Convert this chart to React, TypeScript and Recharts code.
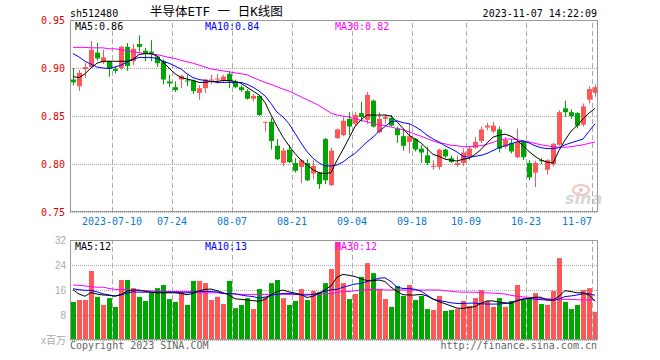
import React from 'react';
import { ComposedChart, Bar, Line, XAxis, YAxis, CartesianGrid, ReferenceLine } from 'recharts';

// trading days shown, 2023-06-29 .. 2023-11-07
const dates = [
  '06-29', '06-30',
  '07-03', '07-04', '07-05', '07-06', '07-07',
  '07-10', '07-11', '07-12', '07-13', '07-14',
  '07-17', '07-18', '07-19', '07-20', '07-21',
  '07-24', '07-25', '07-26', '07-27', '07-28',
  '07-31', '08-01', '08-02', '08-03', '08-04',
  '08-07', '08-08', '08-09', '08-10', '08-11',
  '08-14', '08-15', '08-16', '08-17', '08-18',
  '08-21', '08-22', '08-23', '08-24', '08-25',
  '08-28', '08-29', '08-30', '08-31', '09-01',
  '09-04', '09-05', '09-06', '09-07', '09-08',
  '09-11', '09-12', '09-13', '09-14', '09-15',
  '09-18', '09-19', '09-20', '09-21', '09-22',
  '09-25', '09-26', '09-27', '09-28',
  '10-09', '10-10', '10-11', '10-12', '10-13',
  '10-16', '10-17', '10-18', '10-19', '10-20',
  '10-23', '10-24', '10-25', '10-26', '10-27',
  '10-30', '10-31', '11-01', '11-02', '11-03',
  '11-06', '11-07',
];

const opens = [
  0.888, 0.881, 0.899, 0.901, 0.916, 0.906, 0.907, 0.899, 0.900, 0.922,
  0.907, 0.925, 0.918, 0.917, 0.912, 0.907, 0.886, 0.880, 0.888, 0.887,
  0.887, 0.874, 0.879, 0.887, 0.888, 0.887, 0.894, 0.886, 0.880, 0.876,
  0.868, 0.871, 0.843, 0.844, 0.819, 0.801, 0.815, 0.801, 0.797, 0.801,
  0.790, 0.791, 0.826, 0.778, 0.827, 0.830, 0.847, 0.842, 0.853, 0.846,
  0.866, 0.833, 0.847, 0.848, 0.837, 0.829, 0.823, 0.826, 0.816, 0.809,
  0.797, 0.797, 0.815, 0.806, 0.799, 0.801, 0.808, 0.817, 0.824, 0.838,
  0.834, 0.836, 0.818, 0.822, 0.807, 0.824, 0.801, 0.791, 0.804, 0.794,
  0.800, 0.820, 0.858, 0.854, 0.853, 0.841, 0.867, 0.874,
];
const highs = [
  0.900, 0.898, 0.905, 0.928, 0.926, 0.919, 0.907, 0.902, 0.923, 0.926,
  0.925, 0.934, 0.921, 0.929, 0.913, 0.909, 0.893, 0.886, 0.893, 0.893,
  0.888, 0.882, 0.889, 0.893, 0.894, 0.893, 0.897, 0.888, 0.882, 0.878,
  0.873, 0.872, 0.844, 0.848, 0.826, 0.817, 0.820, 0.806, 0.805, 0.805,
  0.804, 0.792, 0.827, 0.817, 0.837, 0.849, 0.854, 0.854, 0.865, 0.875,
  0.867, 0.854, 0.852, 0.851, 0.839, 0.837, 0.842, 0.827, 0.820, 0.818,
  0.804, 0.816, 0.816, 0.809, 0.809, 0.816, 0.819, 0.828, 0.839, 0.843,
  0.844, 0.839, 0.828, 0.826, 0.837, 0.825, 0.804, 0.803, 0.806, 0.805,
  0.822, 0.856, 0.866, 0.857, 0.854, 0.863, 0.881, 0.883,
];
const lows = [
  0.882, 0.876, 0.890, 0.900, 0.908, 0.904, 0.891, 0.894, 0.898, 0.897,
  0.903, 0.917, 0.907, 0.907, 0.901, 0.883, 0.880, 0.875, 0.879, 0.881,
  0.873, 0.867, 0.874, 0.883, 0.884, 0.885, 0.879, 0.879, 0.875, 0.867,
  0.865, 0.850, 0.834, 0.815, 0.804, 0.798, 0.801, 0.791, 0.780, 0.782,
  0.784, 0.774, 0.779, 0.777, 0.826, 0.829, 0.830, 0.839, 0.844, 0.842,
  0.838, 0.832, 0.842, 0.839, 0.822, 0.814, 0.811, 0.813, 0.801, 0.799,
  0.794, 0.794, 0.806, 0.801, 0.797, 0.798, 0.804, 0.816, 0.822, 0.835,
  0.832, 0.812, 0.816, 0.811, 0.806, 0.804, 0.783, 0.776, 0.800, 0.789,
  0.797, 0.819, 0.849, 0.847, 0.837, 0.839, 0.863, 0.870,
];
const closes = [
  0.885, 0.895, 0.901, 0.919, 0.910, 0.911, 0.899, 0.897, 0.922, 0.902,
  0.920, 0.922, 0.915, 0.915, 0.905, 0.888, 0.884, 0.877, 0.892, 0.886,
  0.876, 0.879, 0.888, 0.888, 0.889, 0.891, 0.886, 0.880, 0.877, 0.868,
  0.871, 0.851, 0.844, 0.824, 0.805, 0.814, 0.802, 0.793, 0.804, 0.783,
  0.798, 0.779, 0.783, 0.814, 0.836, 0.845, 0.839, 0.851, 0.849, 0.872,
  0.839, 0.847, 0.849, 0.840, 0.830, 0.819, 0.829, 0.815, 0.812, 0.801,
  0.798, 0.815, 0.808, 0.802, 0.801, 0.812, 0.816, 0.823, 0.836, 0.840,
  0.840, 0.816, 0.825, 0.813, 0.823, 0.807, 0.786, 0.801, 0.803, 0.804,
  0.821, 0.854, 0.854, 0.850, 0.840, 0.860, 0.878, 0.880,
];

// volume, millions of shares
const volumes = [
  12.2, 12.8, 12.8, 22.1, 13.8, 11.2, 13.4, 10.6, 19.2, 19.2,
  16.6, 13.8, 12.5, 15.2, 16.6, 17.6, 13.1, 12.2, 15.3, 11.2,
  18.9, 18.9, 18.2, 12.8, 13.8, 11.5, 18.9, 10.2, 11.2, 13.4,
  9.9, 16.3, 13.8, 18.2, 19.2, 13.4, 11.2, 12.5, 16.3, 12.8,
  15.7, 15.4, 18.2, 22.7, 31.4, 18.2, 13.1, 14.7, 20.2, 24.6,
  21.4, 16.3, 13.1, 10.6, 17.3, 14.1, 17.6, 12.8, 14.1, 9.9,
  9.6, 14.1, 9.3, 9.6, 9.9, 12.5, 10.9, 13.4, 16.0, 12.5,
  10.6, 13.4, 10.6, 12.5, 17.6, 12.8, 13.4, 15.0, 11.5, 11.2,
  15.7, 26.2, 12.2, 9.9, 11.2, 16.0, 16.6, 9.0,
];

const ma5 = [
  0.891, 0.890, 0.894, 0.900, 0.905, 0.907, 0.907, 0.907, 0.907, 0.907,
  0.909, 0.914, 0.915, 0.915, 0.9125, 0.906, 0.900, 0.894, 0.890, 0.8885,
  0.887, 0.885, 0.885, 0.886, 0.886, 0.887, 0.887, 0.886, 0.884, 0.880,
  0.876, 0.872, 0.864, 0.851, 0.839, 0.828, 0.819, 0.811, 0.804, 0.799,
  0.794, 0.791, 0.790, 0.791, 0.804, 0.815, 0.827, 0.839, 0.846, 0.851,
  0.851, 0.851, 0.851, 0.850, 0.844, 0.837, 0.830, 0.826, 0.822, 0.816,
  0.810, 0.808, 0.805, 0.804, 0.803, 0.805, 0.806, 0.810, 0.815, 0.822,
  0.828, 0.830, 0.831, 0.829, 0.825, 0.819, 0.813, 0.808, 0.804, 0.802,
  0.801, 0.814, 0.825, 0.834, 0.840, 0.847, 0.853, 0.858,
];
const ma10 = [
  0.915, 0.9115, 0.907, 0.904, 0.901, 0.900, 0.8995, 0.901, 0.903, 0.906,
  0.909, 0.911, 0.911, 0.911, 0.910, 0.907, 0.905, 0.902, 0.899, 0.894,
  0.890, 0.888, 0.887, 0.886, 0.885, 0.885, 0.885, 0.885, 0.885, 0.883,
  0.880, 0.876, 0.871, 0.863, 0.854, 0.849, 0.842, 0.832, 0.822, 0.813,
  0.806, 0.801, 0.798, 0.798, 0.799, 0.802, 0.807, 0.811, 0.817, 0.823,
  0.828, 0.834, 0.839, 0.844, 0.845, 0.843, 0.842, 0.839, 0.835, 0.830,
  0.826, 0.823, 0.819, 0.816, 0.8125, 0.808, 0.807, 0.808, 0.809, 0.811,
  0.814, 0.817, 0.819, 0.821, 0.823, 0.824, 0.822, 0.819, 0.817, 0.816,
  0.816, 0.817, 0.820, 0.822, 0.824, 0.826, 0.834, 0.842,
];
const ma30 = [
  0.9215, 0.9215, 0.9215, 0.921, 0.921, 0.921, 0.920, 0.920, 0.919, 0.918,
  0.917, 0.916, 0.915, 0.9145, 0.914, 0.9125, 0.911, 0.910, 0.908, 0.9065,
  0.905, 0.903, 0.901, 0.899, 0.898, 0.897, 0.896, 0.895, 0.894, 0.893,
  0.890, 0.8875, 0.885, 0.883, 0.8805, 0.878, 0.876, 0.873, 0.870, 0.867,
  0.864, 0.861, 0.857, 0.853, 0.851, 0.850, 0.849, 0.847, 0.8455, 0.844,
  0.842, 0.841, 0.840, 0.8385, 0.837, 0.8355, 0.8335, 0.831, 0.829, 0.8265,
  0.824, 0.822, 0.821, 0.8195, 0.819, 0.818, 0.818, 0.8185, 0.819, 0.8205,
  0.8225, 0.825, 0.826, 0.826, 0.8255, 0.824, 0.823, 0.8215, 0.820, 0.819,
  0.818, 0.8175, 0.8175, 0.818, 0.819, 0.820, 0.8215, 0.823,
];

const volMa5 = [
  16.1, 14.7, 14.0, 15.2, 14.7, 14.4, 14.3, 14.0, 14.6, 15.6,
  16.0, 16.0, 15.6, 15.3, 15.1, 15.1, 15.1, 15.1, 14.9, 14.5,
  14.9, 15.7, 16.2, 16.3, 15.8, 15.1, 14.4, 13.2, 13.0, 12.8,
  12.6, 12.4, 13.0, 14.5, 15.5, 16.0, 15.4, 15.0, 14.6, 13.6,
  14.0, 14.9, 16.1, 17.3, 20.1, 21.0, 20.7, 20.3, 19.6, 19.0,
  19.0, 19.2, 18.7, 16.9, 15.6, 14.5, 14.4, 14.4, 14.6, 14.1,
  13.1, 12.3, 11.6, 10.9, 10.2, 10.1, 10.4, 10.7, 11.7, 12.5,
  12.5, 12.1, 11.9, 11.7, 12.5, 13.0, 13.3, 13.7, 13.7, 12.8,
  12.8, 14.0, 15.8, 15.5, 15.1, 15.1, 14.4, 12.4,
];
const volMa10 = [
  16.4, 16.1, 15.9, 15.9, 15.4, 14.8, 14.4, 14.1, 14.4, 15.0,
  15.4, 15.3, 15.3, 15.3, 15.3, 15.3, 15.3, 15.3, 15.1, 15.1,
  15.4, 15.5, 15.5, 15.5, 15.4, 14.9, 14.9, 14.8, 14.4, 14.1,
  13.9, 13.4, 13.7, 14.3, 14.6, 14.9, 14.9, 14.7, 14.4, 14.4,
  14.6, 15.0, 15.6, 16.1, 16.2, 16.9, 17.4, 17.9, 18.1, 18.7,
  19.2, 19.8, 19.9, 18.7, 16.9, 16.5, 16.5, 16.2, 15.6, 14.4,
  13.1, 12.6, 12.3, 11.9, 11.7, 11.7, 11.8, 11.8, 11.6, 11.5,
  11.5, 11.5, 11.7, 11.9, 12.7, 13.2, 13.3, 13.1, 12.9, 12.8,
  12.7, 13.1, 13.9, 14.1, 14.4, 14.8, 14.8, 14.3,
];
const volMa30 = [
  17.6, 17.5, 17.3, 17.0, 16.9, 16.9, 16.5, 16.2, 16.2, 16.1,
  15.9, 15.8, 15.8, 15.7, 15.6, 15.5, 15.5, 15.5, 15.5, 15.5,
  15.4, 15.1, 15.1, 15.1, 15.1, 14.9, 14.8, 14.7, 14.6, 14.6,
  14.6, 14.6, 14.6, 14.6, 14.6, 14.6, 14.6, 14.6, 14.6, 14.6,
  14.6, 14.6, 14.7, 14.9, 15.2, 15.5, 15.5, 15.8, 15.9, 16.1,
  16.2, 16.2, 16.0, 16.0, 16.0, 16.0, 16.0, 16.0, 16.0, 16.0,
  16.0, 16.0, 15.8, 15.6, 15.4, 15.3, 15.3, 15.3, 15.1, 15.1,
  15.0, 14.9, 14.7, 14.3, 14.0, 13.8, 13.6, 13.5, 13.3, 13.2,
  13.1, 13.1, 13.0, 13.0, 12.9, 12.8, 12.8, 12.8,
];

const tickDates = ['07-10', '07-24', '08-07', '08-21', '09-04', '09-18', '10-09', '10-23', '11-07'];
const tickLabels = ['2023-07-10', '07-24', '08-07', '08-21', '09-04', '09-18', '10-09', '10-23', '11-07'];
const priceTicks = [0.75, 0.8, 0.85, 0.9, 0.95];
const volTicks = [0, 8, 16, 24, 32];

const RED = '#ff5656';
const GREEN = '#00a600';
const GRID = '#aaaaaa';
const MONO = '"DejaVu Sans Mono", monospace';

const rows = dates.map((date, i) => ({
  date,
  open: opens[i],
  high: highs[i],
  low: lows[i],
  close: closes[i],
  vol: volumes[i],
  ma5: ma5[i],
  ma10: ma10[i],
  ma30: ma30[i],
  vma5: volMa5[i],
  vma10: volMa10[i],
  vma30: volMa30[i],
}));

const Candle = (props: any) => {
  const { x, y, width, height, payload } = props;
  if (x == null || !payload) return null;
  const { open, close, high, low } = payload;
  const color = close >= open ? RED : GREEN;
  const span = high - low;
  const yOf = (v: number) => (span > 0 ? y + ((high - v) / span) * height : y);
  const top = yOf(Math.max(open, close));
  const bottom = yOf(Math.min(open, close));
  const cx = Math.floor(x + width / 2) + 0.5;
  return (
    <g>
      <line x1={cx} x2={cx} y1={y} y2={y + height} stroke={color} strokeWidth={1} />
      <rect x={x} y={top} width={width} height={Math.max(1, bottom - top)} fill={color} />
    </g>
  );
};

const VolBar = (props: any) => {
  const { x, y, width, height, payload } = props;
  if (x == null || !payload) return null;
  const color = payload.close >= payload.open ? RED : GREEN;
  return <rect x={x} y={y} width={width} height={height} fill={color} />;
};

// date label under a grid line; the last one is pulled in so it stays inside the frame
const dateLabel = (text: string, last: boolean) => (p: any) => {
  const vb = p.viewBox || {};
  return (
    <text
      x={vb.x + (last ? 0 : 0)}
      y={vb.y + vb.height + 12.5}
      textAnchor={last ? 'end' : 'middle'}
      fill="#0a78d8"
      fontSize={10}
      fontFamily={MONO}
    >
      {text}
    </text>
  );
};

const dateLines = (withLabels: boolean) =>
  tickDates.map((d, i) => (
    <ReferenceLine
      key={d}
      x={d}
      position="start"
      stroke={GRID}
      strokeDasharray="5 3"
      shapeRendering="crispEdges"
      label={withLabels ? dateLabel(tickLabels[i], i === tickDates.length - 1) : undefined}
    />
  ));

export default function App() {
  return (
    <div style={{ position: 'absolute', left: 0, top: 0, width: 660, height: 360, background: '#fff' }}>
      <div style={{ position: 'absolute', left: 0, top: 0 }}>
        <ComposedChart width={660} height={233} data={rows} margin={{ top: 20, right: 62, bottom: 21, left: 0 }}>
          <CartesianGrid vertical={false} stroke={GRID} strokeDasharray="1 1" shapeRendering="crispEdges" />
          <XAxis dataKey="date" hide />
          <YAxis
            domain={[0.75, 0.95]}
            ticks={priceTicks}
            width={70}
            tickSize={0}
            tickMargin={5}
            axisLine={false}
            tickFormatter={(v: number) => v.toFixed(2)}
            tick={{ fill: '#e60000', fontSize: 10, fontFamily: MONO }}
          />
          {dateLines(true)}
          <Bar dataKey={(d: any) => [d.low, d.high]} barSize={5} shape={Candle} isAnimationActive={false} />
          <Line dataKey="ma30" stroke="#ff00ff" strokeWidth={1} dot={false} activeDot={false} isAnimationActive={false} />
          <Line dataKey="ma10" stroke="#0000ff" strokeWidth={1} dot={false} activeDot={false} isAnimationActive={false} />
          <Line dataKey="ma5" stroke="#000000" strokeWidth={1} dot={false} activeDot={false} isAnimationActive={false} />
        </ComposedChart>
      </div>
      <div style={{ position: 'absolute', left: 0, top: 233 }}>
        <ComposedChart width={660} height={127} data={rows} margin={{ top: 7, right: 62, bottom: 20, left: 0 }}>
          <CartesianGrid vertical={false} stroke={GRID} strokeDasharray="1 1" shapeRendering="crispEdges" />
          <XAxis dataKey="date" hide />
          <YAxis
            domain={[0, 32]}
            ticks={volTicks}
            width={70}
            tickSize={0}
            tickMargin={4}
            axisLine={false}
            tickFormatter={(v: number) => (v === 0 ? 'x百万' : String(v))}
            tick={{ fill: '#aaaaaa', fontSize: 10, fontFamily: '"Liberation Sans", "Noto Sans CJK SC", sans-serif' }}
          />
          {dateLines(false)}
          <Bar dataKey="vol" barSize={5} shape={VolBar} isAnimationActive={false} />
          <Line dataKey="vma30" stroke="#ff00ff" strokeWidth={1} dot={false} activeDot={false} isAnimationActive={false} />
          <Line dataKey="vma10" stroke="#0000ff" strokeWidth={1} dot={false} activeDot={false} isAnimationActive={false} />
          <Line dataKey="vma5" stroke="#000000" strokeWidth={1} dot={false} activeDot={false} isAnimationActive={false} />
        </ComposedChart>
      </div>
      <svg width={660} height={360} style={{ position: 'absolute', left: 0, top: 0, pointerEvents: 'none' }}>
        <rect x={70.5} y={20.5} width={527} height={191} fill="none" stroke="#999" />
        <rect x={70.5} y={240.5} width={527} height={99} fill="none" stroke="#999" />
        <g fontFamily={MONO} fontSize={10}>
          <text x={70} y={16.5} fill="#000">sh512480</text>
          <text x={597} y={16.5} fill="#000" textAnchor="end">2023-11-07 14:22:09</text>
          <text x={75} y={29.5} fill="#000">MA5:0.86</text>
          <text x={205} y={29.5} fill="#0000ff">MA10:0.84</text>
          <text x={335} y={29.5} fill="#ff00ff">MA30:0.82</text>
          <text x={75} y={250} fill="#000">MA5:12</text>
          <text x={205} y={250} fill="#0000ff">MA10:13</text>
          <text x={335} y={250} fill="#ff00ff">MA30:12</text>
          <text x={70} y={348.5} fill="#666">Copyright 2023 SINA.COM</text>
          <text x={597} y={348.5} fill="#666" textAnchor="end">http://finance.sina.com.cn</text>
        </g>
        <text x={150} y={16} fontSize={12.5} fontFamily={'"DejaVu Sans Mono", "Noto Sans CJK SC", monospace'} fill="#000">
          半导体ETF 一 日K线图
        </text>
        <g opacity={0.5}>
          <ellipse cx={581} cy={190} rx={8} ry={5} fill="none" stroke="#f08080" strokeWidth={2} />
          <circle cx={581} cy={190} r={2} fill="#f08080" />
          <text x={565} y={204} fontSize={16} fontStyle="italic" fontWeight="bold" fontFamily="'DejaVu Sans', sans-serif" fill="#b0b0b0">
            sina
          </text>
        </g>
      </svg>
    </div>
  );
}
